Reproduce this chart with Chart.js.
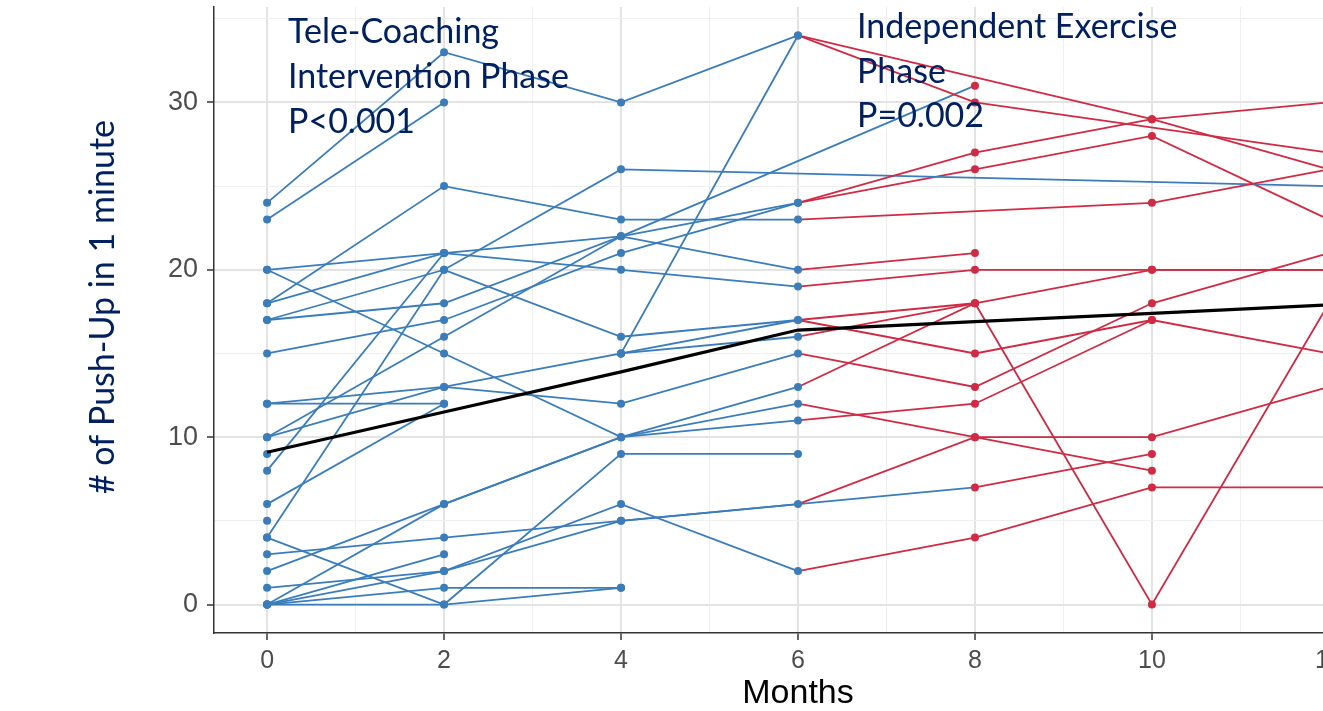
<!DOCTYPE html>
<html>
<head>
<meta charset="utf-8">
<title>Push-Up per minute</title>
<script src="https://cdn.jsdelivr.net/npm/chart.js@4.4.1/dist/chart.umd.min.js"></script>
<style>
  html, body { margin: 0; padding: 0; background: #fff; overflow: hidden; }
  canvas { display: block; }
</style>
</head>
<body>
<canvas id="pushUpChart" width="1400" height="711"></canvas>
<script>
// Follow-up months
const months = [0, 2, 4, 6, 8, 10, 12]

// Individual push-up counts per subject (null = no measurement)
const subjects = [
    [24, 33, 30, 34, 30, null, 27],
    [23, 30],
    [18, 25, 23, 23, null, 24, 26],
    [20, 21, 20, 19, 20, 20, 20],
    [20, 15, 10, 12, 10, 8],
    [18, 21, 22, 24, 27, 29, 30],
    [17, 20, 26, null, null, null, 25],
    [17, 18, 22, 20, 21],
    [15, 17, 21, 24, 26, 28, 23],
    [12, 13, 15, 34, null, 29, 26],
    [12, 12],
    [10, 16, 22, null, 31],
    [10, 13, 12, 15, 13, 18, 21],
    [8, 21],
    [4, 20, 16, 17, 15, 17, 15],
    [6, 12],
    [4, 0, 1],
    [3, 4, 5, 6, 10, 10, 13],
    [2, 6, 10, 11, 12, 17],
    [1, 2, 5, null, 7, 9],
    [0, 2, 6, 2, 4, 7, 7],
    [0, 1, 1],
    [0, 0, 9, 9],
    [0, 6, 10, 13, 18, 0, 18],
    [0, 3],
    [5],
    [9],
    [null, null, 15, 16, 18, 20, 20],
    [null, null, 15, 17, 18]
]

// Mean trend line
const meanLine = [9.1, 11.5, 13.9, 16.4, 16.9, 17.4, 17.9]

// Axis ticks (odd months / multiples of 5 are minor grid lines)
const xTicks = [0, 1, 2, 3, 4, 5, 6, 7, 8, 9, 10, 11, 12]
const yTicks = [0, 5, 10, 15, 20, 25, 30, 35]

const leftText = ['Tele-Coaching', 'Intervention Phase', 'P<0.001']
const rightText = ['Independent Exercise', 'Phase', 'P=0.002']
const yTitle = '# of Push-Up in 1 minute'
const xTitle = 'Months'

const blue = '#3a7dba'
const red = '#cf2b44'
const navy = '#002060'

function toPoints(values){
    const pts = []
    values.forEach((v, i) => {
        if (v !== null && v !== undefined) pts.push({x: months[i], y: v})
    })
    return pts
}

// Phase labels and y title, drawn on top like the text boxes of the original
const phaseText = {
    id: 'phaseText',
    afterDraw(chart){
        const c = chart.ctx
        c.save()
        c.fillStyle = navy
        c.font = '34px Lato'
        c.textBaseline = 'alphabetic'
        leftText.forEach((t, i) => c.fillText(t, 288, 43 + i * 45))
        rightText.forEach((t, i) => c.fillText(t, 857, 38 + i * 44.5))
        c.translate(103, 307)
        c.rotate(-Math.PI / 2)
        c.textAlign = 'center'
        c.textBaseline = 'middle'
        c.font = '34px Lato'
        c.fillText(yTitle, 0, 0)
        c.restore()
    }
}

const isMajorX = c => c.tick && c.tick.value % 2 === 0
const isMajorY = c => c.tick && c.tick.value % 10 === 0

Chart.defaults.font.family = "'Liberation Sans', Arial, sans-serif"

const datasets = [{
    data: toPoints(meanLine),
    borderColor: '#000',
    borderWidth: 3.2,
    pointRadius: 0,
    order: 0
}]

subjects.forEach(s => {
    datasets.push({
        data: toPoints(s),
        borderColor: blue,
        borderWidth: 1.8,
        segment: {
            borderColor: c => c.p0.parsed.x < 6 ? blue : red
        },
        pointRadius: 4,
        pointBorderWidth: 0,
        pointBackgroundColor: c => c.raw && c.raw.x <= 6 ? blue : red,
        order: 1
    })
})

let ctx = document.getElementById('pushUpChart')
const config = {
    type: 'line',
    data: { datasets: datasets },
    options: {
        responsive: false,
        animation: false,
        devicePixelRatio: 1,
        layout: { padding: { top: 7, right: 18, left: 0, bottom: 0 } },
        plugins: {
            legend: { display: false },
            tooltip: { enabled: false }
        },
        scales: {
            x: {
                type: 'linear',
                min: -0.6,
                max: 12.6,
                afterBuildTicks: s => { s.ticks = xTicks.map(v => ({value: v})) },
                afterFit: s => {
                    s.height = 78
                    s.paddingLeft = 0
                    s.paddingRight = 0
                },
                ticks: {
                    autoSkip: false,
                    maxRotation: 0,
                    color: '#4d4d4d',
                    font: { size: 25 },
                    padding: 6,
                    callback: v => v % 2 === 0 ? v : ''
                },
                grid: {
                    color: c => isMajorX(c) ? '#e3e3e3' : '#efefef',
                    lineWidth: c => isMajorX(c) ? 2 : 1,
                    tickColor: c => isMajorX(c) ? '#333' : 'rgba(0,0,0,0)',
                    tickLength: 7,
                    tickWidth: 1.5
                },
                border: { color: '#333', width: 1.5 },
                title: {
                    display: true,
                    text: xTitle,
                    color: '#000',
                    font: { size: 34, lineHeight: 1 },
                    padding: { top: 0, bottom: 0 }
                }
            },
            y: {
                min: -1.7,
                max: 35.7,
                afterBuildTicks: s => { s.ticks = yTicks.map(v => ({value: v})) },
                afterFit: s => {
                    s.width = 214
                    s.paddingTop = 0
                    s.paddingBottom = 0
                },
                ticks: {
                    color: '#4d4d4d',
                    font: { size: 27 },
                    padding: 9,
                    callback: v => v % 10 === 0 ? v : ''
                },
                grid: {
                    color: c => isMajorY(c) ? '#e3e3e3' : '#efefef',
                    lineWidth: c => isMajorY(c) ? 2 : 1,
                    tickColor: c => isMajorY(c) ? '#333' : 'rgba(0,0,0,0)',
                    tickLength: 7,
                    tickWidth: 1.5
                },
                border: { color: '#333', width: 1.5 }
            }
        }
    },
    plugins: [phaseText]
}

let myChart = new Chart(ctx, config)
</script>
</body>
</html>
